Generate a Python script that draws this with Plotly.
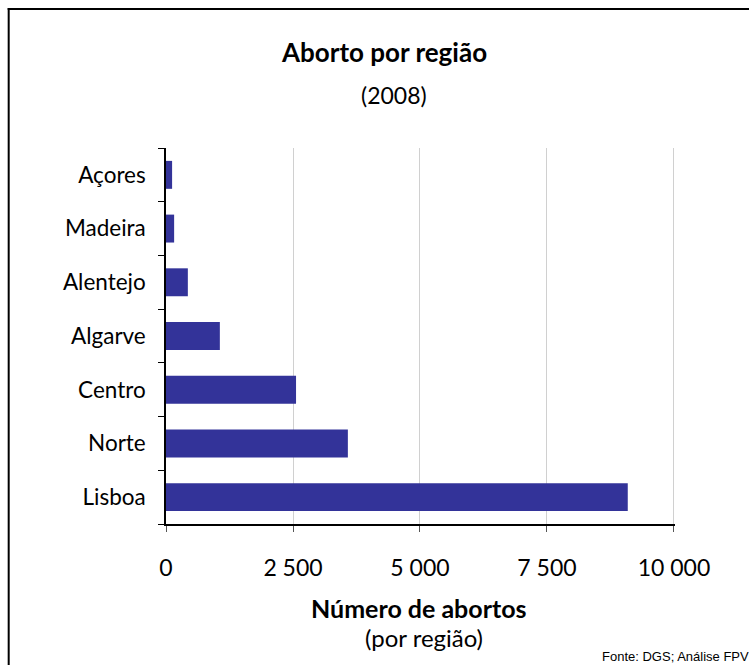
import plotly.graph_objects as go

regioes = ["Lisboa", "Norte", "Centro", "Algarve", "Alentejo", "Madeira", "Açores"]
abortos = [9090, 3580, 2560, 1060, 430, 160, 120]
x_ticks = [0, 2500, 5000, 7500, 10000]

font = "Lato, 'Open Sans', sans-serif"

# plot area in pixels: x 166..674, y 148..524
def px(x):
    return (x - 166) / 508

def py(y):
    return (524 - y) / 376

fig = go.Figure()
fig.add_trace(go.Bar(x=abortos, y=regioes, orientation="h",
                     marker=dict(color="#333399", line=dict(width=0)),
                     showlegend=False))

fig.update_layout(
    width=749, height=665,
    margin=dict(l=166, r=74, t=148, b=141),
    paper_bgcolor="white", plot_bgcolor="white",
    separators=", ",
    bargap=0.48,
    font=dict(family=font, size=22, color="black"),
    xaxis=dict(range=[0, 10020], tickvals=x_ticks, tickformat=",d",
               showgrid=True, gridcolor="#d0d0d0", gridwidth=1,
               showline=True, linecolor="black", linewidth=1.5,
               ticks="outside", ticklen=6, tickcolor="#555",
               tickfont=dict(size=23),
               ticklabelstandoff=17, zeroline=False),
    yaxis=dict(type="category", showgrid=False,
               showline=True, linecolor="black", linewidth=1.5,
               ticks="outside", ticklen=6, tickcolor="black",
               tickfont=dict(size=22.5),
               tickson="boundaries", ticklabelstandoff=14),
)

# titles
anns = [
    ("<b>Aborto por região</b>", 384, 52, 26),
    ("(2008)", 394, 95, 23),
    ("<b>Número de abortos</b>", 419, 608, 25),
    ("(por região)", 423, 637, 24),
]
for txt, x, y, sz in anns:
    fig.add_annotation(text=txt, x=px(x), y=py(y),
                       xref="paper", yref="paper", showarrow=False,
                       xanchor="center", yanchor="middle", font=dict(size=sz))

# source
fig.add_annotation(text="Fonte: DGS; Análise FPV", x=px(748), y=py(656),
                   xref="paper", yref="paper", showarrow=False,
                   xanchor="right", yanchor="middle", xshift=2,
                   font=dict(family="'Liberation Sans', Arial, sans-serif", size=13))

# outer frame: only left and top edges are visible in the picture
fig.add_shape(type="line", xref="paper", yref="paper",
              x0=px(9), x1=px(9), y0=py(670), y1=py(8),
              line=dict(color="black", width=2), layer="below")
fig.add_shape(type="line", xref="paper", yref="paper",
              x0=px(8), x1=px(760), y0=py(9), y1=py(9),
              line=dict(color="black", width=2), layer="below")

fig.write_html("out.html", config={"displayModeBar": False},
               post_script="document.body.style.margin='0';")
